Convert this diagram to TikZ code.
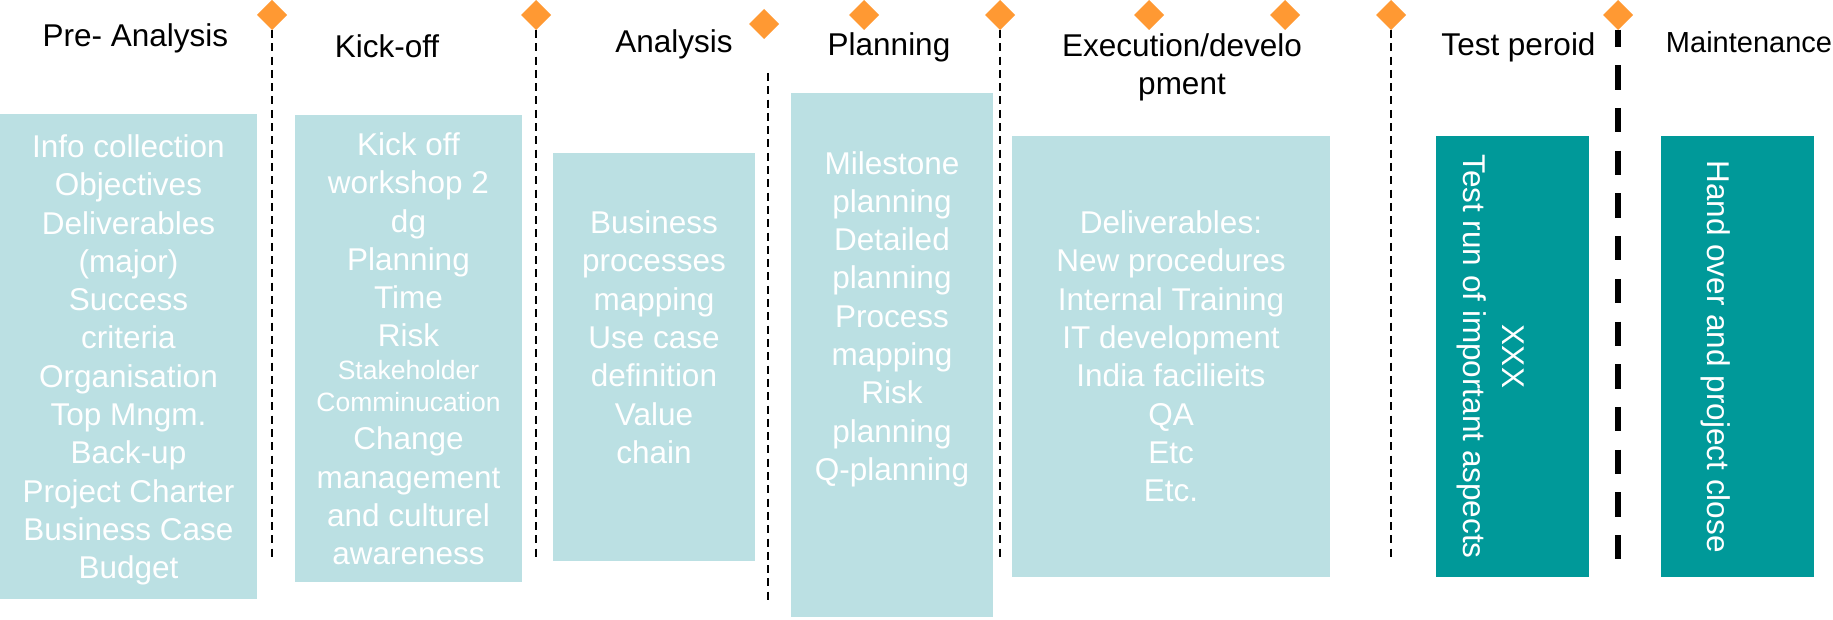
\documentclass[tikz,border=0pt]{standalone}
\usepackage{fontspec}
\setmainfont{Liberation Sans}
\usetikzlibrary{shapes.geometric}
\definecolor{lightteal}{RGB}{187,224,227}
\definecolor{darkteal}{RGB}{0,153,153}
\definecolor{mileorange}{RGB}{255,153,51}
\begin{document}
\begin{tikzpicture}[x=1pt,y=-1pt,
  lbox/.style={fill=lightteal,draw=none,anchor=north west,inner sep=0pt,outer sep=0pt},
  dbox/.style={fill=darkteal,draw=none,anchor=north west,inner sep=0pt,outer sep=0pt},
  boxtxt/.style={text=white,align=center,inner sep=0pt,anchor=north,font=\fontsize{31.5}{38.3}\selectfont},
  rottxt/.style={text=white,align=center,inner sep=0pt,anchor=north,rotate=-90,font=\fontsize{31.5}{38.3}\selectfont},
  phasetitle/.style={text=black,align=center,inner sep=0pt,anchor=base,font=\fontsize{31.5}{38.3}\selectfont},
  milestone/.style={diamond,fill=mileorange,draw=none,minimum width=30pt,minimum height=30pt,inner sep=0pt,outer sep=0pt},
  sepline/.style={draw=black,line width=2pt,dash pattern=on 8pt off 5.3pt},
  thicksep/.style={draw=black,line width=6pt,dash pattern=on 24.3pt off 18.4pt,dash phase=7.4pt}
]
\useasboundingbox (0,0) rectangle (1833,620);

% boxes
\node[lbox,minimum width=257pt,minimum height=485pt] (b1) at (0,114) {};
\node[lbox,minimum width=227pt,minimum height=467pt] (b2) at (295,115) {};
\node[lbox,minimum width=202pt,minimum height=408pt] (b3) at (553,153) {};
\node[lbox,minimum width=202pt,minimum height=524pt] (b4) at (791,93) {};
\node[lbox,minimum width=318pt,minimum height=441pt] (b5) at (1012,136) {};
\node[dbox,minimum width=153pt,minimum height=441pt] (b6) at (1436,136) {};
\node[dbox,minimum width=153pt,minimum height=441pt] (b7) at (1661,136) {};

% box texts
\node[boxtxt] (t1) at (128.5,134.4) {Info collection\\Objectives\\Deliverables\\(major)\\Success\\criteria\\Organisation\\Top Mngm.\\Back-up\\Project Charter\\Business Case\\Budget};
\node[boxtxt] (t2) at (408.5,132.4) {Kick off\\workshop 2\\dg\\Planning\\Time\\Risk\\[-6pt]{\fontsize{26.5}{32}\selectfont Stakeholder}\\[-6pt]{\fontsize{26.5}{32}\selectfont Comminucation}\\Change\\management\\and culturel\\awareness};
\node[boxtxt] (t3) at (654,210.5) {Business\\processes\\mapping\\Use case\\definition\\Value\\chain};
\node[boxtxt] (t4) at (892,151) {Milestone\\planning\\Detailed\\planning\\Process\\mapping\\Risk\\planning\\Q-planning};
\node[boxtxt] (t5) at (1171,210.5) {Deliverables:\\New procedures\\Internal Training\\IT development\\India facilieits\\QA\\Etc\\Etc.};
\node[rottxt] (t6) at (1524,356.5) {XXX\\Test run of important aspects};
\node[rottxt] (t7) at (1731,356.5) {Hand over and project close};

% phase titles
\node[phasetitle] (h1) at (135.5,47) {Pre- Analysis};
\node[phasetitle] (h2) at (387,57.5) {Kick-off};
\node[phasetitle] (h3) at (674,52.5) {Analysis};
\node[phasetitle] (h4) at (889,56) {Planning};
\node[phasetitle,anchor=north] (h5) at (1182,33) {Execution/develo\\pment};
\node[phasetitle] (h6) at (1518.5,56) {Test peroid};
\node[phasetitle,font=\fontsize{29}{35}\selectfont] (h7) at (1749,53) {Maintenance};

% milestones
\node[milestone] (d1) at (272,15) {};
\node[milestone] (d2) at (536,15) {};
\node[milestone] (d3) at (764,24) {};
\node[milestone] (d4) at (864,15) {};
\node[milestone] (d5) at (1000,15) {};
\node[milestone] (d6) at (1149,15) {};
\node[milestone] (d7) at (1285,15) {};
\node[milestone] (d8) at (1391,15) {};
\node[milestone] (d9) at (1618,15) {};

% separator lines
\coordinate (e1) at (272,558);
\coordinate (e2) at (536,558);
\coordinate (s3) at (768,73);
\coordinate (e3) at (768,602);
\coordinate (e5) at (1000,559);
\coordinate (e8) at (1391,559);
\coordinate (e9) at (1618,559.3);
\draw[sepline] (d1.south) -- (e1);
\draw[sepline] (d2.south) -- (e2);
\draw[sepline] (s3) -- (e3);
\draw[sepline] (d5.south) -- (e5);
\draw[sepline] (d8.south) -- (e8);
\draw[thicksep] (d9.south) -- (e9);
\end{tikzpicture}
\end{document}
